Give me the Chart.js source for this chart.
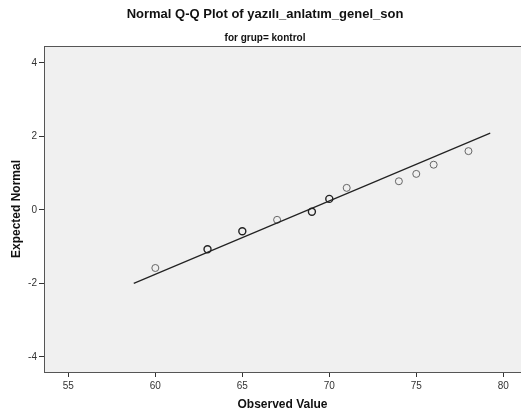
<!DOCTYPE html>
<html>
<head>
<meta charset="utf-8">
<script src="https://cdn.jsdelivr.net/npm/chart.js@4.4.1/dist/chart.umd.min.js"></script>
<style>
  html, body { margin: 0; padding: 0; background: #fff; overflow: hidden; }
  canvas { display: block; }
</style>
</head>
<body>
<canvas id="qqplot" width="521" height="420"></canvas>
<script>
// observed values and their expected normal scores
const observed = [60, 63, 65, 67, 69, 70, 71, 74, 75, 76, 78];
const expected = [-1.58, -1.07, -0.58, -0.27, -0.05, 0.30, 0.60, 0.78, 0.98, 1.23, 1.60];
// number of cases at each observed value (ties overplot)
const counts = [1, 2, 2, 1, 2, 2, 1, 1, 1, 1, 1];

// reference line ends
const lineX = [58.76, 79.25];
const lineY = [-2.0, 2.09];

const xTicks = [55, 60, 65, 70, 75, 80];
const yTicks = [-4, -2, 0, 2, 4];

const pts = observed.map(function(v, i){ return {x: v, y: expected[i]}; });
const linePts = lineX.map(function(v, i){ return {x: v, y: lineY[i]}; });

// grey plot panel with a frame on top
const plotBg = {
    id: 'plotBg',
    beforeDraw: function(chart){
        const a = chart.chartArea;
        const ctx = chart.ctx;
        ctx.save();
        ctx.fillStyle = '#f0f0f0';
        ctx.fillRect(a.left, a.top, a.right - a.left, a.bottom - a.top);
        ctx.strokeStyle = '#555';
        ctx.lineWidth = 1;
        ctx.beginPath();
        ctx.moveTo(a.left, a.top + 0.5);
        ctx.lineTo(a.right, a.top + 0.5);
        ctx.stroke();
        ctx.restore();
    }
};

const tickFont = {family: 'Liberation Sans', size: 10};
const titleFont = {family: 'Liberation Sans', size: 12, weight: 'bold'};

new Chart(document.getElementById('qqplot'), {
    type: 'scatter',
    data: {
        datasets: [{
            type: 'line',
            data: linePts,
            borderColor: '#222',
            borderWidth: 1.2,
            pointRadius: 0,
            fill: false
        }, {
            data: pts,
            pointStyle: 'circle',
            pointRadius: 3.5,
            backgroundColor: 'rgba(0,0,0,0)',
            borderColor: counts.map(function(c){ return c > 1 ? '#222' : '#666'; }),
            borderWidth: counts.map(function(c){ return c > 1 ? 1.4 : 1; })
        }]
    },
    options: {
        responsive: false,
        animation: false,
        layout: { autoPadding: false, padding: { left: 9, right: 0, top: 0, bottom: 0 } },
        plugins: {
            legend: { display: false },
            tooltip: { enabled: false },
            title: {
                display: true,
                text: 'Normal Q-Q Plot of yazılı_anlatım_genel_son',
                color: '#111',
                font: {family: 'Liberation Sans', size: 13, weight: 'bold'},
                padding: { top: 7, bottom: 7 }
            },
            subtitle: {
                display: true,
                text: 'for grup= kontrol',
                color: '#111',
                font: {family: 'Liberation Sans', size: 10, weight: 'bold'},
                padding: { top: 3, bottom: 1.4 }
            }
        },
        scales: {
            x: {
                type: 'linear',
                min: 53.6,
                max: 81.02,
                afterBuildTicks: function(s){ s.ticks = xTicks.map(function(v){ return {value: v}; }); },
                afterFit: function(s){ s.height = 48; },
                grid: { drawOnChartArea: false, tickLength: 5, color: '#333' },
                border: { color: '#555' },
                ticks: { color: '#333', font: tickFont, padding: 3, maxRotation: 0 },
                title: { display: true, text: 'Observed Value', color: '#111', font: titleFont, padding: { top: 0, bottom: 7.8 } }
            },
            y: {
                type: 'linear',
                min: -4.41,
                max: 4.46,
                afterBuildTicks: function(s){ s.ticks = yTicks.map(function(v){ return {value: v}; }); },
                afterFit: function(s){ s.width = 35; },
                grid: { drawOnChartArea: false, tickLength: 5, color: '#333' },
                border: { color: '#555' },
                ticks: { color: '#333', font: tickFont, padding: 2 },
                title: { display: true, text: 'Expected Normal', color: '#111', font: titleFont, padding: { top: 0, bottom: 0 } }
            }
        }
    },
    plugins: [plotBg]
});
</script>
</body>
</html>
